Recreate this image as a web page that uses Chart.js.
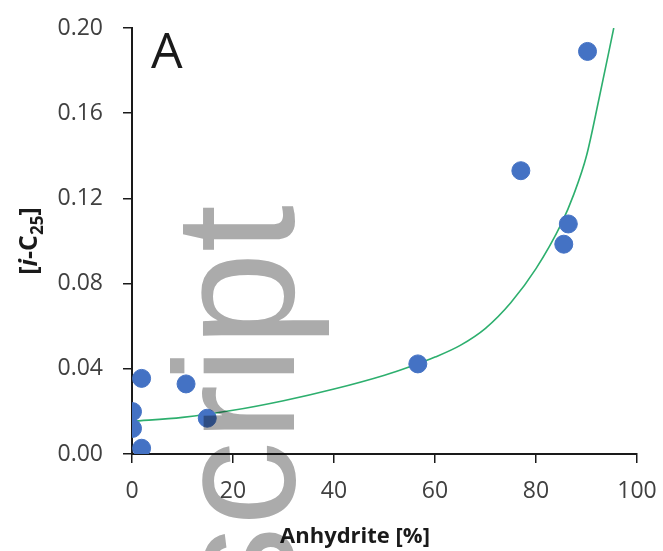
<!DOCTYPE html>
<html>
<head>
<meta charset="utf-8">
<script src="https://cdn.jsdelivr.net/npm/chart.js@4"></script>
<style>
  html, body { margin: 0; padding: 0; background: #fff; }
  #wrap { width: 663px; height: 551px; }
</style>
</head>
<body>
<div id="wrap"><canvas id="myChart" width="663" height="551"></canvas></div>
<script>
// measured samples
const anhydrite = [90.2, 77.0, 86.4, 85.5, 56.6, 1.9, 10.7, 0.1, 0.1, 1.9, 14.9]
const iC25 = [0.189, 0.133, 0.108, 0.0985, 0.0423, 0.0355, 0.0329, 0.0199, 0.0120, 0.0027, 0.0168]

// fitted curve
const fitX = [0, 10, 20, 30, 40, 50, 55, 60, 65, 70, 75, 80, 85, 87.5, 90, 92.5, 95.4]
const fitY = [0.0153, 0.0172, 0.0205, 0.025, 0.0305, 0.037, 0.041, 0.0455, 0.051, 0.059, 0.071, 0.087, 0.108, 0.122, 0.140, 0.167, 0.200]

const xTicks = [0, 20, 40, 60, 80, 100]
const yTicks = [0.00, 0.04, 0.08, 0.12, 0.16, 0.20]

const panelLabel = 'A'
const xTitle = 'Anhydrite [%]'
const watermark = 'script'

const tickFont = {family: 'Open Sans', size: 23}
const tickColor = '#404040'

let points = anhydrite.map((x, i) => ({x: x, y: iC25[i]}))
let curve = fitX.map((x, i) => ({x: x, y: fitY[i]}))

// panel letter, axis titles and the watermark
const extras = {
    id: 'extras',
    afterDraw(chart) {
        const ctx = chart.ctx
        ctx.save()
        ctx.fillStyle = '#1a1a1a'
        ctx.font = '50px "Open Sans"'
        ctx.textAlign = 'left'
        ctx.textBaseline = 'alphabetic'
        ctx.fillText(panelLabel, 151, 68)

        // x title
        ctx.font = 'bold 22px "Open Sans"'
        ctx.textAlign = 'center'
        ctx.fillText(xTitle, 355, 543)

        // y title: [i-C25] with italic i and subscript
        ctx.translate(37, 241)
        ctx.rotate(-Math.PI / 2)
        const parts = [
            {t: '[', f: 'bold 25px "Open Sans"', dy: 0},
            {t: 'i', f: 'italic bold 25px "Open Sans"', dy: 0},
            {t: '-C', f: 'bold 25px "Open Sans"', dy: 0},
            {t: '25', f: 'bold 17px "Open Sans"', dy: 6},
            {t: ']', f: 'bold 25px "Open Sans"', dy: 0}
        ]
        let total = 0
        for (let p of parts) { ctx.font = p.f; total += ctx.measureText(p.t).width }
        let cx = -total / 2
        ctx.textAlign = 'left'
        for (let p of parts) {
            ctx.font = p.f
            ctx.fillText(p.t, cx, p.dy)
            cx += ctx.measureText(p.t).width
        }
        ctx.restore()

        // watermark sits on top, multiplied like the scan
        ctx.save()
        ctx.globalCompositeOperation = 'multiply'
        ctx.fillStyle = '#ababab'
        ctx.font = '170px "Liberation Sans"'
        ctx.translate(294, 205)
        ctx.rotate(-Math.PI / 2)
        ctx.textAlign = 'right'
        ctx.textBaseline = 'alphabetic'
        ctx.fillText(watermark, 0, 0)
        ctx.restore()
    }
}

let chartContext = document.getElementById('myChart').getContext('2d')

const myChart = new Chart(chartContext, {
    type: 'scatter',
    data: {
        datasets: [
            {
                label: 'samples',
                data: points,
                backgroundColor: '#4472C4',
                borderColor: '#4472C4',
                pointRadius: 9,
                pointHoverRadius: 9
            },
            {
                label: 'fit',
                data: curve,
                type: 'line',
                showLine: true,
                borderColor: '#2DAF6E',
                borderWidth: 1.6,
                pointRadius: 0,
                fill: false,
                cubicInterpolationMode: 'monotone'
            }
        ]
    },
    options: {
        responsive: false,
        animation: false,
        events: [],
        layout: {padding: {left: 0, right: 26, top: 28, bottom: 0}},
        plugins: {
            legend: {display: false},
            tooltip: {enabled: false}
        },
        scales: {
            x: {
                type: 'linear',
                min: 0,
                max: 100,
                afterBuildTicks: (scale) => { scale.ticks = xTicks.map(v => ({value: v})) },
                afterFit: (scale) => {
                    scale.height = 97
                    scale.paddingLeft = 0
                    scale.paddingRight = 0
                },
                border: {display: true, color: '#1a1a1a', width: 2},
                grid: {display: true, drawOnChartArea: false, drawTicks: true, tickLength: 9, color: '#1a1a1a', lineWidth: 1.5},
                ticks: {font: tickFont, color: tickColor, padding: 15, maxRotation: 0}
            },
            y: {
                type: 'linear',
                min: 0,
                max: 0.2,
                afterBuildTicks: (scale) => { scale.ticks = yTicks.map(v => ({value: v})) },
                afterFit: (scale) => {
                    scale.width = 132
                    scale.paddingTop = 0
                    scale.paddingBottom = 0
                },
                border: {display: true, color: '#1a1a1a', width: 2},
                grid: {display: true, drawOnChartArea: false, drawTicks: true, tickLength: 9, color: '#1a1a1a', lineWidth: 1.5},
                ticks: {
                    font: tickFont,
                    color: tickColor,
                    padding: 20,
                    callback: function (val) { return val.toFixed(2) }
                }
            }
        }
    },
    plugins: [extras]
})
</script>
</body>
</html>
